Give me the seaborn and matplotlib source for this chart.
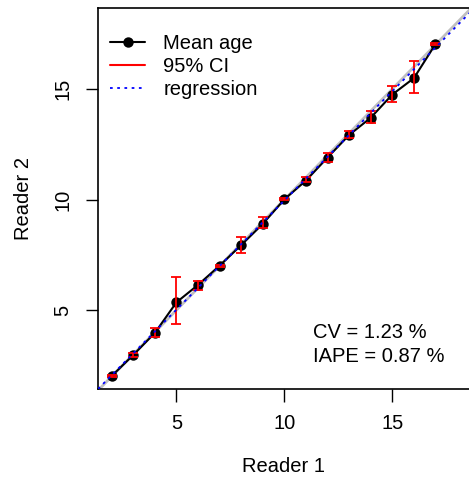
import matplotlib
matplotlib.use("Agg")
import matplotlib.pyplot as plt
from matplotlib.lines import Line2D
import seaborn as sns
import numpy as np
import pandas as pd

# Age-bias data
reader1_age = [2, 3, 4, 5, 6, 7, 8, 9, 10, 11, 12, 13, 14, 15, 16, 17]
reader2_mean = [2.02, 2.97, 3.97, 5.35, 6.14, 7.01, 7.94, 8.90, 10.01, 10.86,
                11.90, 12.92, 13.70, 14.75, 15.49, 17.03]
ci_lower = [1.96, 2.90, 3.79, 4.37, 5.93, 6.97, 7.60, 8.69, 9.97, 10.78,
            11.71, 12.77, 13.44, 14.40, 14.83, 16.98]
ci_upper = [2.08, 3.04, 4.20, 6.51, 6.33, 7.05, 8.32, 9.19, 10.05, 11.02,
            12.09, 13.11, 14.00, 15.15, 16.27, 17.08]
reg_intercept = 0.08
reg_slope = 0.988
cv_text = "CV = 1.23 %"
iape_text = "IAPE = 0.87 %"

df = pd.DataFrame({"Reader 1": reader1_age, "Reader 2": reader2_mean,
                   "lo": ci_lower, "hi": ci_upper})

sns.set_theme(style="white")
plt.rcParams["font.family"] = ["Liberation Sans", "DejaVu Sans"]
plt.rcParams["text.color"] = "black"
plt.rcParams["axes.labelcolor"] = "black"
plt.rcParams["xtick.color"] = "black"
plt.rcParams["ytick.color"] = "black"

fig = plt.figure(figsize=(4.69, 4.86), dpi=100)
W, H = 469, 486
left, right, bottom, top = 97.7, 470.0, 389.0, 8.3
ax = fig.add_axes([left / W, (H - bottom) / H, (right - left) / W, (bottom - top) / H])

ax.set_xlim(1.35, 18.6)
ax.set_ylim(1.43, 18.65)

# 1:1 line
ax.axline((0, 0), slope=1, color="#c0c0c0", lw=2, zorder=1)

# mean age line
sns.lineplot(data=df, x="Reader 1", y="Reader 2", ax=ax, color="black",
             marker="o", markersize=7.5, markeredgewidth=0, lw=1.5, zorder=2)

# 95% CI error bars
ax.errorbar(df["Reader 1"], df["Reader 2"],
            yerr=[df["Reader 2"] - df["lo"], df["hi"] - df["Reader 2"]],
            fmt="none", ecolor="red", elinewidth=1.3, capsize=3.5, capthick=1.3, zorder=3)

# regression line
ax.axline((0, reg_intercept), slope=reg_slope, color="blue", lw=1.3,
          ls=(0, (1.5, 2.5)), zorder=4)

ax.set_xticks([5, 10, 15])
ax.set_yticks([5, 10, 15])
ax.tick_params(axis="both", labelsize=14.5, length=9, width=1, color="black",
               direction="out", bottom=True, left=True, pad=9)
for lab in ax.get_yticklabels():
    lab.set_rotation(90)
    lab.set_va("center")
ax.set_xlabel("Reader 1", fontsize=14.5, labelpad=17)
ax.set_ylabel("Reader 2", fontsize=14.5, labelpad=15)

for side in ["left", "bottom", "top", "right"]:
    ax.spines[side].set_color("black")
    ax.spines[side].set_linewidth(1.2)

handles = [
    Line2D([], [], color="black", lw=1.5, marker="o", markersize=7.5, markeredgewidth=0),
    Line2D([], [], color="red", lw=1.5),
    Line2D([], [], color="blue", lw=1.3, ls=(0, (1.5, 2.5))),
]
ax.legend(handles, ["Mean age", "95% CI", "regression"], loc="upper left",
          bbox_to_anchor=(0.033, 0.932), frameon=False, fontsize=14.5,
          handlelength=1.75, handletextpad=0.9, labelspacing=0.2,
          borderpad=0, borderaxespad=0)

ax.text(0.579, 0.133, cv_text, transform=ax.transAxes, fontsize=14.5,
        ha="left", va="baseline")
ax.text(0.579, 0.072, iape_text, transform=ax.transAxes, fontsize=14.5,
        ha="left", va="baseline")

fig.savefig("out.png", dpi=100)
